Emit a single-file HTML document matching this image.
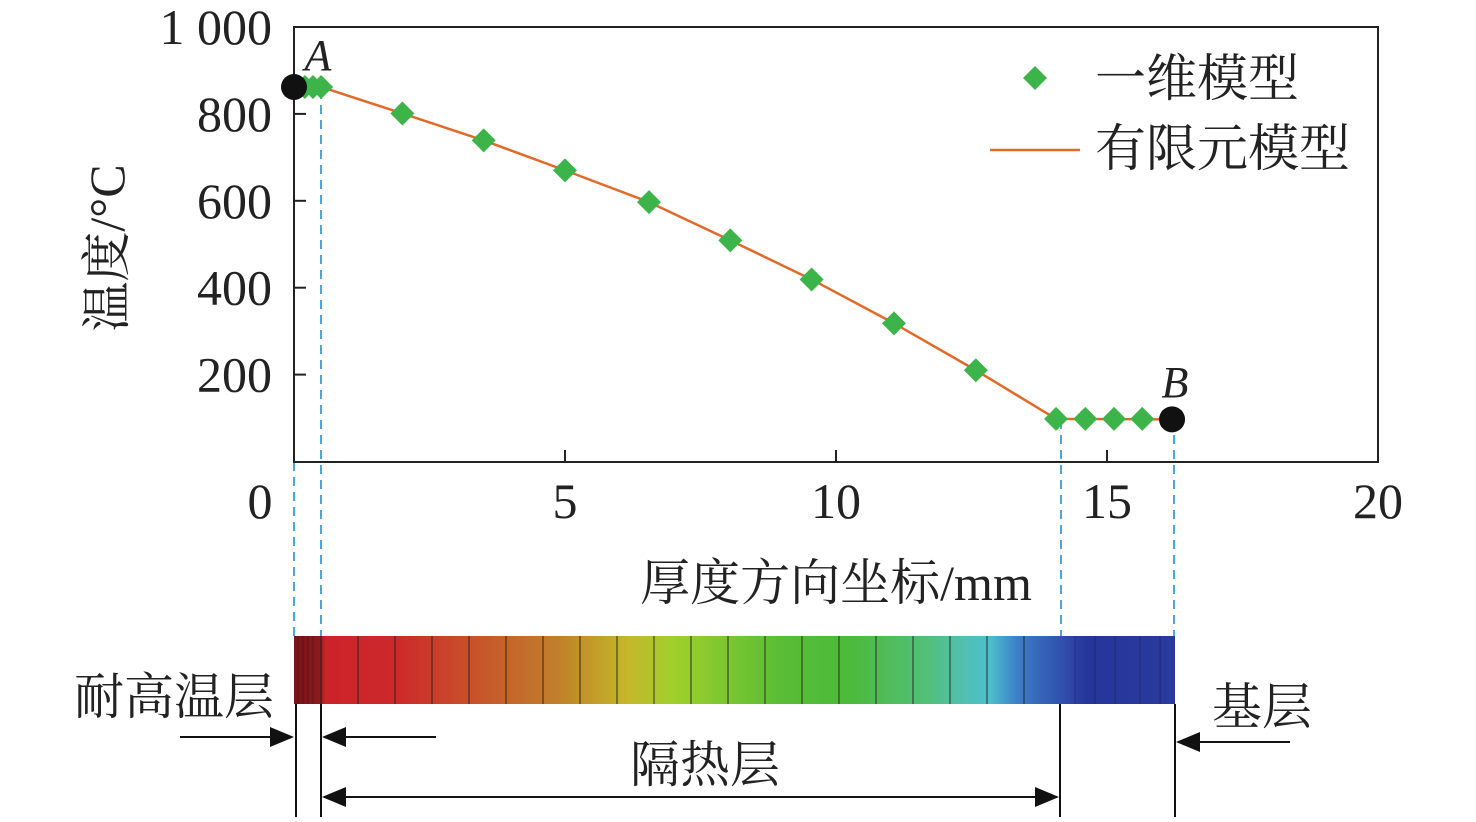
<!DOCTYPE html>
<html><head><meta charset="utf-8"><style>
body{margin:0;background:#fff}
svg text{font-family:"Liberation Serif","Noto Serif CJK SC",serif;fill:#222}
</style></head><body>
<svg id="c" width="1476" height="817" xmlns="http://www.w3.org/2000/svg">
<defs>
<linearGradient id="g" x1="0" x2="1">
<stop offset="0" stop-color="#7a1418"/><stop offset="0.03" stop-color="#8a1a1c"/>
<stop offset="0.035" stop-color="#cc2229"/><stop offset="0.12" stop-color="#cc2a2a"/>
<stop offset="0.2" stop-color="#c8502a"/><stop offset="0.3" stop-color="#c0802a"/>
<stop offset="0.38" stop-color="#c4b828"/><stop offset="0.43" stop-color="#a0d02a"/>
<stop offset="0.55" stop-color="#5abd36"/><stop offset="0.63" stop-color="#4cba3a"/>
<stop offset="0.72" stop-color="#52c07a"/><stop offset="0.76" stop-color="#50c0b0"/>
<stop offset="0.79" stop-color="#4bc0cc"/><stop offset="0.82" stop-color="#3d80c8"/>
<stop offset="0.88" stop-color="#2e48a8"/><stop offset="0.9" stop-color="#25359a"/>
<stop offset="1" stop-color="#2a3a9e"/>
</linearGradient>
<marker id="ar" markerWidth="12" markerHeight="10" refX="11" refY="5" orient="auto"><path d="M0,0 L12,5 L0,10 Z" fill="#111"/></marker>
</defs>
</svg>
<script>
const xs=[2.0,3.5,5.0,6.55,8.05,9.55,11.07,12.58,14.06,14.6,15.13,15.65];
const ys=[801,739,670,597,509,419,318,210,98,98,98,98];
const xsA=[0.2,0.35,0.5];
const ysA=[862,862,862];
const lineX=[0.5,2.0,3.5,5.0,6.55,8.05,9.55,11.07,12.58,14.06,16.2];
const lineY=[862,801,739,670,597,509,419,318,210,98,97];
const xTicks=[0,5,10,15,20];
const yTicks=[200,400,600,800,1000];
const yTickLabels=["200","400","600","800","1 000"];
const ptA=[0,862], ptB=[16.2,97];
const X=v=>294+v*54.2, Y=v=>461.5-v*0.4345;
const svg=document.getElementById('c'), NS="http://www.w3.org/2000/svg";
function el(t,a,txt){const e=document.createElementNS(NS,t);for(const k in a)e.setAttribute(k,a[k]);if(txt!=null)e.textContent=txt;svg.appendChild(e);return e;}
[[294,462,636],[321,90,636],[1061,420,636],[1174,420,636]].forEach(d=>{const l=el('line',{x1:d[0],x2:d[0],y1:d[1],y2:d[2],stroke:'#4aa6dc','stroke-width':2,'stroke-dasharray':'9,6'});

});
const fr=el('rect',{x:294,y:27,width:1084,height:435,fill:'none',stroke:'#222','stroke-width':2});


xTicks.forEach(t=>{el('line',{x1:X(t),x2:X(t),y1:462,y2:450,stroke:'#222','stroke-width':2});
const tx=el('text',{x:t===0?260:X(t),y:518,'font-size':50,'text-anchor':'middle'},String(t));

});
yTicks.forEach((t,i)=>{el('line',{x1:294,x2:306,y1:Y(t),y2:Y(t),stroke:'#222','stroke-width':2});
const tx=el('text',{x:272,y:Y(t)+17,'font-size':50,'text-anchor':'end'},yTickLabels[i]);

});
const yt=el('text',{transform:'translate(124,248) rotate(-90)','font-size':50,'text-anchor':'middle'},'温度/°C');


const xt=el('text',{x:836,y:600,'font-size':50,'text-anchor':'middle'},'厚度方向坐标/mm');


const ln=el('polyline',{points:lineX.map((v,i)=>X(v)+','+Y(lineY[i])).join(' '),fill:'none',stroke:'#e06a2a','stroke-width':2.5});


function dia(x,y,n){const p=el('path',{d:`M${x},${y-12}L${x+12},${y}L${x},${y+12}L${x-12},${y}Z`,fill:'#3cb44a'});

}
xsA.forEach((v,i)=>dia(X(v),Y(ysA[i]),'point-a-cluster'));
xs.forEach((v,i)=>dia(X(v),Y(ys[i]),'model-point'));
[[ptA,'A',318,70],[ptB,'B',1175,397]].forEach(([p,l,lx,ly])=>{const c=el('circle',{cx:X(p[0]),cy:Y(p[1]),r:13,fill:'#111'});


const t=el('text',{x:lx,y:ly,'font-size':44,'font-style':'italic','text-anchor':'middle'},l);

});
dia(1035,78,'legend-marker');
const l1=el('text',{x:1095,y:96,'font-size':51},'一维模型');


el('line',{x1:990,x2:1080,y1:150,y2:150,stroke:'#e06a2a','stroke-width':2.5});
const l2=el('text',{x:1095,y:166,'font-size':51},'有限元模型');


const cb=el('rect',{x:294,y:636,width:881,height:68,fill:'url(#g)'});


for(let i=0;i<24;i++){const x=321+i*37;if(x<1060)el('line',{x1:x,x2:x,y1:636,y2:704,stroke:'#222','stroke-width':1.3,opacity:0.7});}
[298,303,308,313,1075,1095,1115,1140,1160].forEach(x=>el('line',{x1:x,x2:x,y1:636,y2:704,stroke:'#111','stroke-width':1,opacity:0.35}));
[296,321,1060,1175].forEach(x=>el('line',{x1:x,x2:x,y1:704,y2:817,stroke:'#111','stroke-width':2}));
el('line',{x1:180,x2:292,y1:737,y2:737,stroke:'#111','stroke-width':2,'marker-end':'url(#ar)'});
el('line',{x1:436,x2:324,y1:737,y2:737,stroke:'#111','stroke-width':2,'marker-end':'url(#ar)'});
el('line',{x1:1290,x2:1178,y1:742,y2:742,stroke:'#111','stroke-width':2,'marker-end':'url(#ar)'});
el('line',{x1:700,x2:324,y1:797,y2:797,stroke:'#111','stroke-width':2,'marker-end':'url(#ar)'});
el('line',{x1:700,x2:1057,y1:797,y2:797,stroke:'#111','stroke-width':2,'marker-end':'url(#ar)'});
[['耐高温层',74,714,'layer-label-refractory'],['隔热层',630,782,'layer-label-insulation'],['基层',1212,724,'layer-label-substrate']].forEach(a=>{const t=el('text',{x:a[1],y:a[2],'font-size':50},a[0]);

});
</script>
</body></html>
